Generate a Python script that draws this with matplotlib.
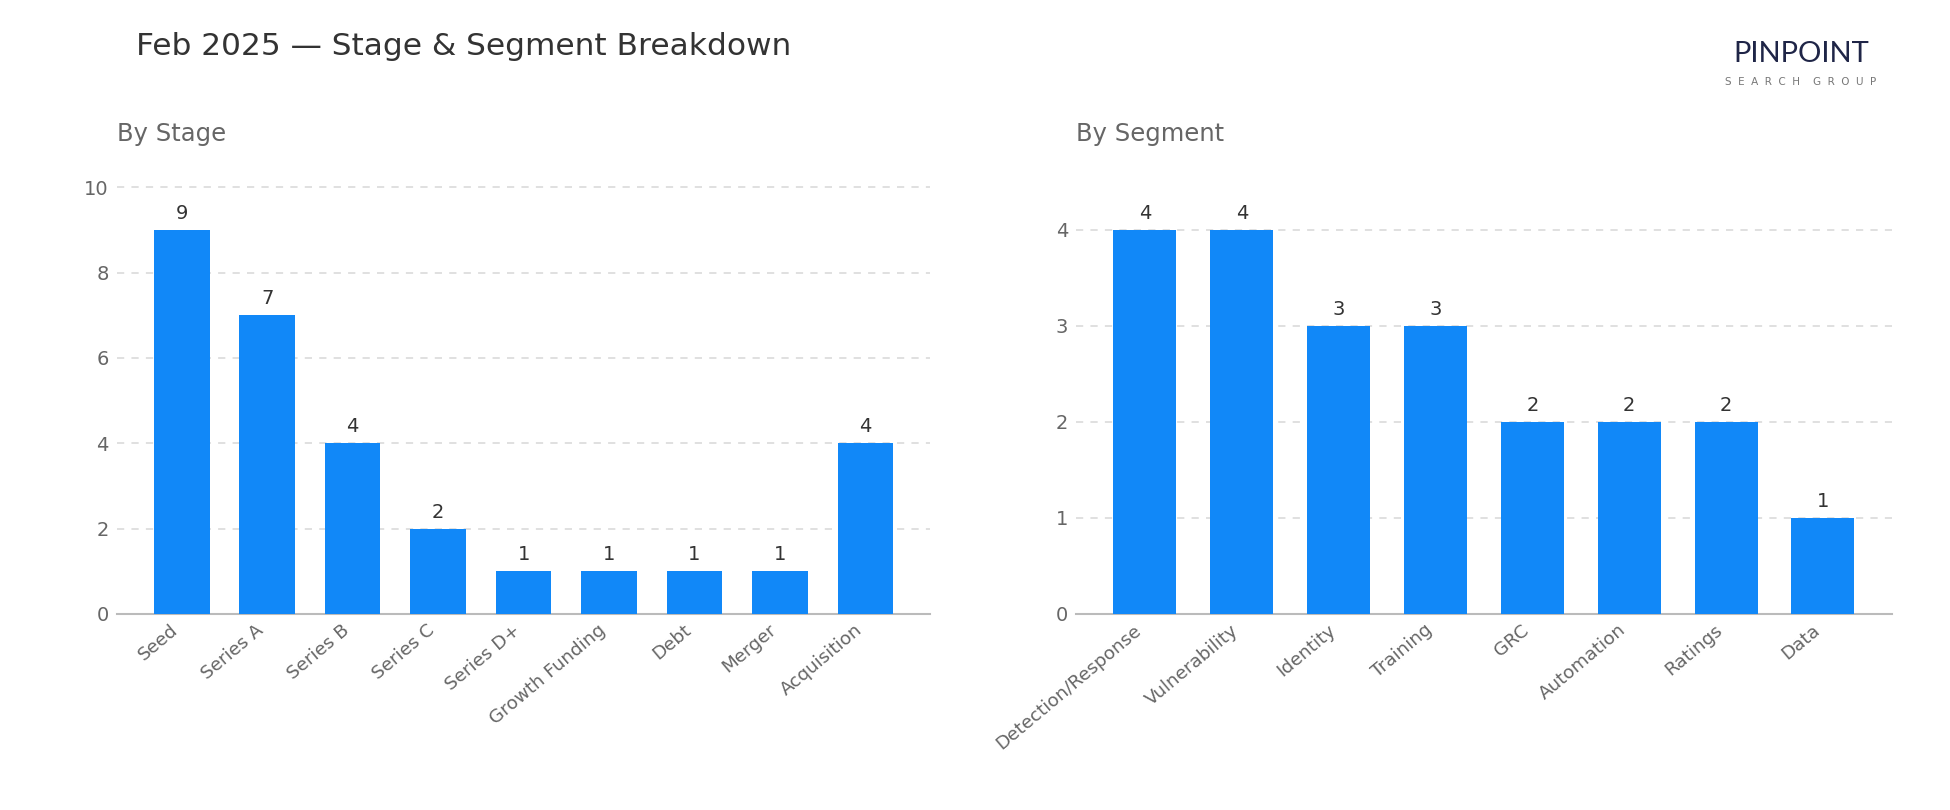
import matplotlib
matplotlib.use("Agg")
import matplotlib.pyplot as plt

stages = ["Seed", "Series A", "Series B", "Series C", "Series D+", "Growth Funding",
          "Debt", "Merger", "Acquisition"]
stage_counts = [9, 7, 4, 2, 1, 1, 1, 1, 4]

segments = ["Detection/Response", "Vulnerability", "Identity", "Training", "GRC",
            "Automation", "Ratings", "Data"]
segment_counts = [4, 4, 3, 3, 2, 2, 2, 1]

title = "Feb 2025 \u2014 Stage & Segment Breakdown"
BAR = "#1188F8"
TXT = "#333333"
SUB = "#666666"

plt.rcParams["font.family"] = ["DejaVu Sans"]

fig = plt.figure(figsize=(19.5, 8.1), dpi=100)
fig.patch.set_facecolor("white")

ax1 = fig.add_axes([0.060, 0.242, 0.417, 0.569])
ax2 = fig.add_axes([0.552, 0.242, 0.418, 0.569])


def draw(ax, cats, vals, sub, yticks):
    x = range(len(cats))
    bars = ax.bar(x, vals, width=0.65, color=BAR, zorder=3)
    ax.set_ylim(0, max(vals) * 1.2)
    ax.set_yticks(yticks)
    ax.set_xticks(list(x))
    ax.set_xticklabels(cats, rotation=40, ha="right", fontsize=13.2, color=SUB)
    ax.tick_params(axis="y", labelsize=14, labelcolor=SUB, length=0, pad=6)
    ax.tick_params(axis="x", length=0, pad=5)
    ax.grid(axis="y", linestyle=(0, (4, 4)), color="#dddddd", linewidth=1.3, zorder=0)
    for s in ["top", "right", "left"]:
        ax.spines[s].set_visible(False)
    ax.spines["bottom"].set_color("#bbbbbb")
    ax.spines["bottom"].set_linewidth(1.5)
    for b, v in zip(bars, vals):
        ax.annotate(str(v), (b.get_x() + b.get_width() / 2, v), xytext=(0, 5),
                    textcoords="offset points", ha="center", va="bottom",
                    fontsize=14, color=TXT)
    ax.set_title(sub, loc="left", fontsize=17.5, color=SUB, pad=9)


draw(ax1, stages, stage_counts, "By Stage", [0, 2, 4, 6, 8, 10])
draw(ax2, segments, segment_counts, "By Segment", [0, 1, 2, 3, 4])

fig.text(0.0695, 0.943, title, fontsize=22.5, color=TXT, ha="left", va="center")

# logo
fig.text(0.9235, 0.933, "PINPOINT", fontsize=21, color="#1f2547", ha="center",
         va="center", family="Lato")
fig.text(0.9235, 0.899, "S  E  A  R  C  H    G  R  O  U  P", fontsize=7.5,
         color="#777777", ha="center", va="center", family="DejaVu Sans")

fig.savefig("out.png", dpi=100, facecolor="white")
